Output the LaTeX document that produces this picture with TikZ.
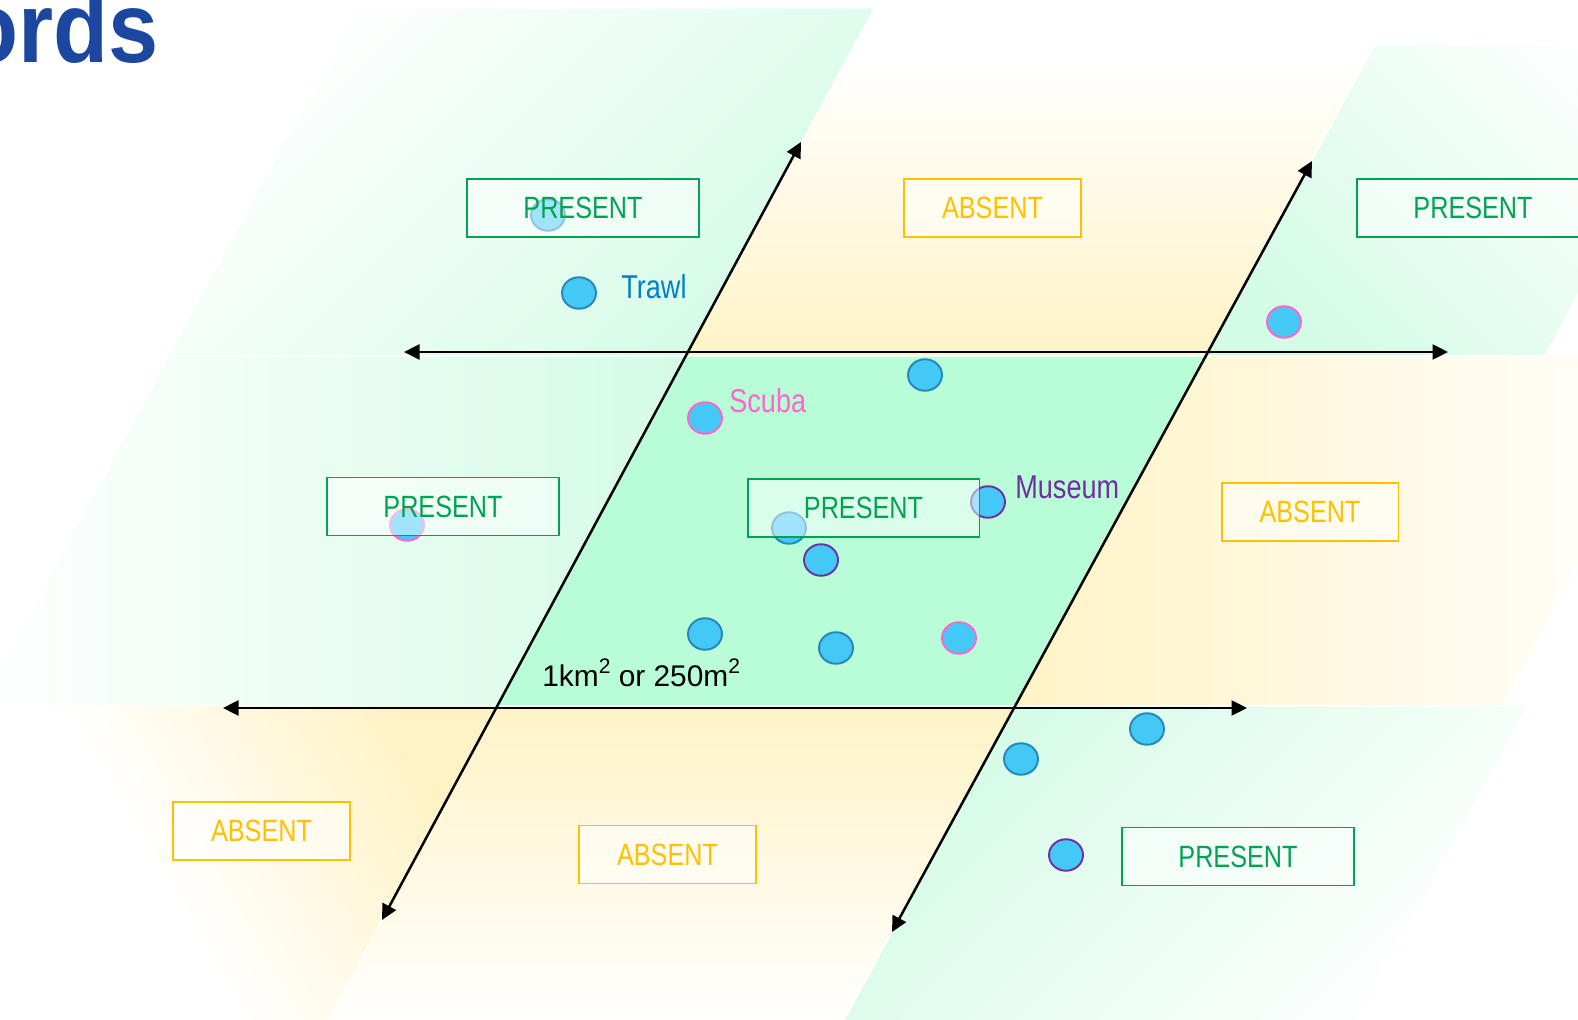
\documentclass[tikz,border=0pt]{standalone}
\usepackage{fontspec}
\setmainfont{Liberation Sans}
\newfontfamily\condfont[FakeStretch=0.82]{Liberation Sans}
\newfontfamily\headfont[FakeStretch=0.9]{Liberation Sans}
\usetikzlibrary{arrows.meta,shapes.geometric}

\definecolor{mint}{RGB}{184,252,216}
\definecolor{mintlight}{RGB}{212,251,230}
\definecolor{yellowlight}{RGB}{255,243,198}
\definecolor{presentgreen}{RGB}{0,163,82}
\definecolor{absentyellow}{RGB}{255,192,0}
\definecolor{trawlblue}{RGB}{0,128,204}
\definecolor{scubapink}{RGB}{255,102,204}
\definecolor{museumpurple}{RGB}{112,48,160}
\definecolor{dotfill}{RGB}{68,200,245}
\definecolor{dotblue}{RGB}{40,135,185}
\definecolor{titleblue}{RGB}{27,71,161}

\tikzset{
  tile/.style={draw=white, line width=0.8pt},
  axisline/.style={line width=0.05cm, {Triangle[length=0.31cm,width=0.30cm]}-{Triangle[length=0.31cm,width=0.30cm]}},
  sdot/.style={ellipse, minimum width=0.68cm, minimum height=0.63cm, inner sep=0pt, fill=dotfill, line width=1.1pt},
  trawldot/.style={sdot, draw=dotblue},
  scubadot/.style={sdot, draw=scubapink},
  museumdot/.style={sdot, draw=museumpurple},
  labelbox/.style={rectangle, minimum height=1.16cm, line width=1.1pt, fill=white, fill opacity=0.5, text opacity=1, inner sep=0pt, font=\condfont\fontsize{17.5}{20}\selectfont},
  presentbox/.style={labelbox, draw=presentgreen, text=presentgreen, minimum width=4.64cm},
  absentbox/.style={labelbox, draw=absentyellow, text=absentyellow, minimum width=3.54cm},
  method/.style={anchor=base west, inner sep=0pt, font=\condfont\fontsize{18.8}{20}\selectfont},
}
\newcommand{\sqsup}{\raisebox{0.42em}{\fontsize{12}{12}\selectfont 2}}

\begin{document}
\begin{tikzpicture}[x=0.02cm, y=-0.02cm]
\useasboundingbox (0,0) rectangle (1578,1020);
\clip (0,0) rectangle (1578,1020);

% top row of tiles
\shadedraw[tile, top color=white, bottom color=mintlight, shading angle=45]
  (356.5,8) -- (874.4,8) -- (686.4,356) -- (168.6,356) -- cycle;
\shadedraw[tile, top color=white, bottom color=yellowlight]
  (846.3,60) -- (1366.4,60) -- (1205.3,356) -- (686.4,356) -- cycle;
\shadedraw[tile, top color=white, bottom color=mintlight, shading angle=-45]
  (1374.5,45) -- (1710,45) -- (1545,356) -- (1205.3,356) -- cycle;

% middle row of tiles
\shadedraw[tile, left color=white, right color=mintlight]
  (168.6,356) -- (686.4,356) -- (497.4,706) -- (-20.4,706) -- cycle;
\filldraw[tile, fill=mint]
  (686.4,356) -- (1205.3,356) -- (1014.9,706) -- (497.4,706) -- cycle;
\shadedraw[tile, left color=yellowlight, right color=white]
  (1205.3,356) -- (1691,356) -- (1502,706) -- (1014.9,706) -- cycle;

% bottom row of tiles
\shadedraw[tile, draw=none, top color=yellowlight, bottom color=white,
           middle color=white, shading angle=-60]
  (-20.4,706) -- (497.4,706) -- (322.5,1030) -- (-195,1030) -- cycle;
\shadedraw[tile, top color=yellowlight, bottom color=white]
  (497.4,706) -- (1014.9,706) -- (838.7,1030) -- (322.5,1030) -- cycle;
\shadedraw[tile, top color=mintlight, bottom color=white, shading angle=45]
  (1014.9,706) -- (1527,706) -- (1352,1030) -- (838.7,1030) -- cycle;

% title fragment
\node[anchor=base east, inner sep=0pt, text=titleblue,
      font=\headfont\bfseries\fontsize{57}{60}\selectfont] (title) at (159,63) {ords};

% axes
\coordinate (l1) at (801,142);
\coordinate (l2) at (382,920);
\coordinate (r1) at (1312,161);
\coordinate (r2) at (892,932);
\coordinate (t1) at (404,352);
\coordinate (t2) at (1448,352);
\coordinate (b1) at (223,708);
\coordinate (b2) at (1247,708);
\draw[axisline] (l2) -- (l1);
\draw[axisline] (r2) -- (r1);
\draw[axisline] (t1) -- (t2);
\draw[axisline] (b1) -- (b2);

% records
\node[trawldot]  (d1)  at (548,215) {};
\node[trawldot]  (d2)  at (579,293) {};
\node[trawldot]  (d3)  at (925,375) {};
\node[scubadot]  (d4)  at (705,418) {};
\node[scubadot]  (d5)  at (1284,322) {};
\node[museumdot] (d6)  at (988,502) {};
\node[trawldot]  (d7)  at (789,528) {};
\node[museumdot] (d8)  at (821,560) {};
\node[scubadot]  (d9)  at (407,525) {};
\node[trawldot]  (d10) at (705,634) {};
\node[trawldot]  (d11) at (836,648) {};
\node[scubadot]  (d12) at (959,638) {};
\node[trawldot]  (d13) at (1147,729) {};
\node[trawldot]  (d14) at (1021,759) {};
\node[museumdot] (d15) at (1066,855) {};

% status boxes
\node[presentbox] (pTL) at (583,208) {PRESENT};
\node[absentbox]  (aTM) at (992.5,208) {ABSENT};
\node[presentbox] (pTR) at (1473,208) {PRESENT};
\node[presentbox] (pML) at (443,506.5) {PRESENT};
\node[presentbox] (pMC) at (863.5,508) {PRESENT};
\node[absentbox]  (aMR) at (1310,512) {ABSENT};
\node[absentbox]  (aBL) at (261.5,831) {ABSENT};
\node[absentbox]  (aBM) at (667.5,854.5) {ABSENT};
\node[presentbox] (pBR) at (1238,856.5) {PRESENT};

% legend labels
\node[method, text=trawlblue]    (trawl)  at (621,299) {Trawl};
\node[method, text=scubapink]    (scuba)  at (729,412) {Scuba};
\node[method, text=museumpurple] (museum) at (1015,498) {Museum};

% cell size
\node[anchor=base west, inner sep=0pt, font=\fontsize{17}{18}\selectfont] (area) at (542,686)
  {1km\sqsup\ or 250m\sqsup};
\end{tikzpicture}
\end{document}
